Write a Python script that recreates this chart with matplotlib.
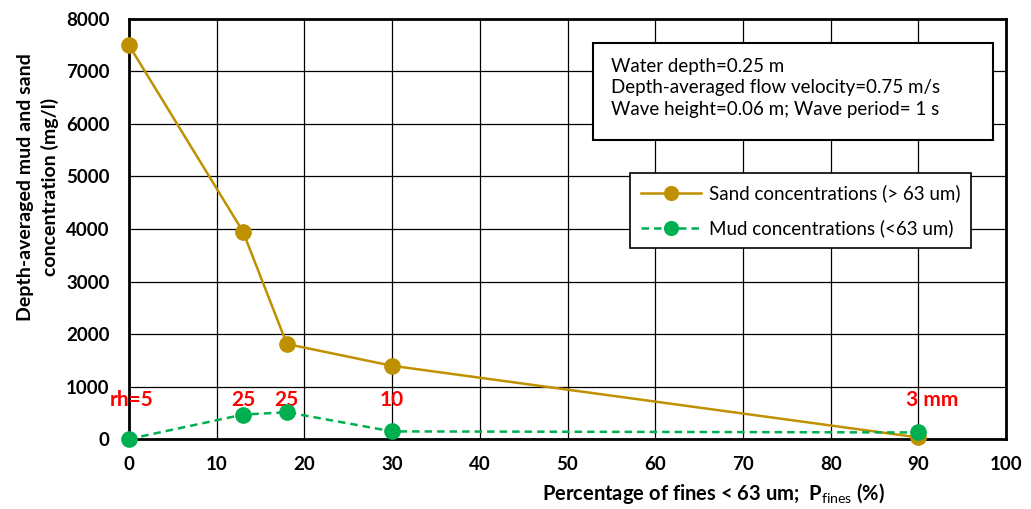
import matplotlib
matplotlib.use("Agg")
import matplotlib.pyplot as plt
from matplotlib.patches import Rectangle

plt.rcParams["font.family"] = ["Lato", "DejaVu Sans"]
plt.rcParams["mathtext.fontset"] = "custom"
plt.rcParams["mathtext.rm"] = "Lato"
plt.rcParams["mathtext.bf"] = "Lato:bold"

# data
fines = [0, 13, 18, 30, 90]
sand = [7500, 3950, 1810, 1395, 30]
mud = [0, 465, 510, 145, 125]
rh_labels = ["rh=5", "25", "25", "10", "3 mm"]
rh_label_x = [0.35, 13, 18, 30, 91.6]
rh_label_y = [745, 745, 745, 745, 745]

fig = plt.figure(figsize=(10.31, 5.09), dpi=100)
ax = fig.add_axes([0.1251, 0.1375, 0.8507, 0.8252])

ax.plot(fines, sand, color="#BF9000", lw=1.8, marker="o", ms=11,
        label="Sand concentrations (> 63 um)", zorder=3, clip_on=False)
ax.plot(fines, mud, color="#00B050", lw=1.8, ls="--", dashes=(3, 2), marker="o", ms=11,
        label="Mud concentrations (<63 um)", zorder=4, clip_on=False)

for lx, ly, t in zip(rh_label_x, rh_label_y, rh_labels):
    ax.text(lx, ly, t, color="red", fontsize=15, fontweight="bold",
            ha="center", va="center")

ax.set_xlim(0, 100)
ax.set_ylim(0, 8000)
ax.set_xticks(range(0, 101, 10))
ax.set_yticks(range(0, 8001, 1000))
ax.grid(True, color="black", lw=0.9)
ax.set_axisbelow(True)
for s in ax.spines.values():
    s.set_linewidth(2)
ax.tick_params(length=0, labelsize=13.5)
ax.tick_params(axis="x", pad=12)
ax.tick_params(axis="y", pad=14)
for lab in ax.get_xticklabels() + ax.get_yticklabels():
    lab.set_fontweight("bold")

ax.set_xlabel(r"Percentage of fines < 63 um;  P$_{\mathrm{fines}}$ (%)",
              fontsize=14.5, fontweight="bold")
ax.xaxis.set_label_coords(0.666, -0.1)
ax.set_ylabel("Depth-averaged mud and sand\nconcentration (mg/l)",
              fontsize=14, fontweight="bold", linespacing=1.45)
ax.yaxis.set_label_coords(-0.08, 0.6)

# info box
ax.add_patch(Rectangle((0.529, 0.712), 0.456, 0.231, transform=ax.transAxes,
                       fc="white", ec="black", lw=1.5, zorder=5))
ax.text(0.5496, 0.836, "Water depth=0.25 m\nDepth-averaged flow velocity=0.75 m/s\n"
        "Wave height=0.06 m; Wave period= 1 s",
        transform=ax.transAxes, fontsize=13.5, va="center", ha="left",
        linespacing=1.32, zorder=6)

leg = ax.legend(loc="upper left", bbox_to_anchor=(0.571, 0.633), borderaxespad=0,
                fontsize=13.5, frameon=True, fancybox=False, edgecolor="black",
                framealpha=1, handlelength=3.2, handletextpad=0.4, borderpad=0.6,
                labelspacing=0.9, markerscale=0.9)
leg.get_frame().set_linewidth(1.2)
leg.set_zorder(6)

fig.savefig("out.png", dpi=100)
